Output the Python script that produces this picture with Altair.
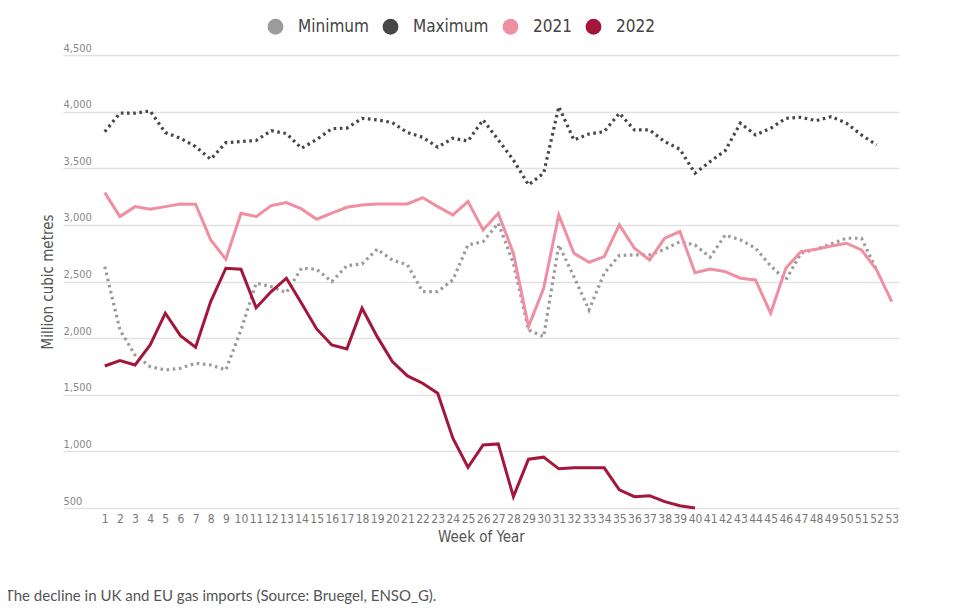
import altair as alt
import pandas as pd

series_names = ["Minimum", "Maximum", "2021", "2022"]
series_colors = ["#9b9b9b", "#474747", "#ef8fa1", "#a3173b"]

minimum = [2631, 2072, 1851, 1748, 1719, 1734, 1778, 1763, 1719, 2072,
           2485, 2455, 2402, 2617, 2608, 2499, 2640, 2655, 2785, 2690,
           2646, 2411, 2411, 2514, 2823, 2852, 3015, 2661, 2072, 2013,
           2823, 2543, 2249, 2573, 2730, 2735, 2735, 2785, 2852, 2823,
           2714, 2911, 2867, 2794, 2638, 2514, 2750, 2785, 2832, 2882,
           2882, 2602]
maximum = [3823, 3986, 3986, 4006, 3815, 3765, 3691, 3580, 3726, 3736,
           3745, 3832, 3806, 3677, 3753, 3849, 3855, 3941, 3927, 3903,
           3815, 3774, 3686, 3765, 3741, 3927, 3750, 3573, 3353, 3456,
           4044, 3750, 3803, 3823, 3986, 3838, 3838, 3735, 3668, 3456,
           3559, 3656, 3898, 3794, 3853, 3941, 3950, 3920, 3956, 3898,
           3794, 3706]
y2021 = [3285, 3073, 3161, 3138, 3161, 3185, 3183, 2867, 2697, 3103,
         3073, 3170, 3197, 3141, 3050, 3103, 3155, 3176, 3185, 3185,
         3185, 3241, 3161, 3088, 3205, 2955, 3103, 2750, 2102, 2440,
         3088, 2750, 2670, 2720, 3000, 2794, 2690, 2882, 2941, 2578,
         2611, 2587, 2529, 2514, 2220, 2617, 2764, 2785, 2814, 2838,
         2779, 2602, 2322]
y2022 = [1754, 1801, 1763, 1940, 2220, 2022, 1920, 2323, 2617, 2608,
         2269, 2411, 2529, 2308, 2081, 1940, 1905, 2264, 2013, 1793,
         1666, 1602, 1514, 1116, 860, 1057, 1066, 600, 931, 949,
         846, 855, 855, 855, 660, 600, 609, 556, 520, 500]

week_ticks = list(range(1, 54))
y_ticks = [500, 1000, 1500, 2000, 2500, 3000, 3500, 4000, 4500]

rows = []
for name, vals in zip(series_names, [minimum, maximum, y2021, y2022]):
    for i, v in enumerate(vals):
        rows.append({"week": i + 1, "value": v, "series": name})
df = pd.DataFrame(rows)

FONT = "Liberation Sans Narrow, DejaVu Sans Condensed, Roboto"

x = alt.X("week:Q",
          scale=alt.Scale(domain=[-1.76, 53.48], nice=False, zero=False),
          axis=alt.Axis(values=week_ticks, format="d", grid=False, domain=False,
                        ticks=False, labelFlush=False, labelOverlap=False,
                        labelPadding=5, labelFont=FONT, labelFontSize=12,
                        labelColor="#777777", title="Week of Year",
                        titleFont=FONT, titleFontSize=15, titleFontWeight="normal",
                        titleColor="#555555", titlePadding=5))
y = alt.Y("value:Q",
          scale=alt.Scale(domain=[500, 4500], nice=False, zero=False),
          axis=alt.Axis(values=y_ticks, format=",.0f", domain=False, ticks=False,
                        labelAlign="left", labelBaseline="bottom", labelPadding=0,
                        labelOffset=-2, labelFont=FONT, labelFontSize=11,
                        labelColor="#888888", gridColor="#e2e2e2", gridWidth=1.5,
                        title="Million cubic metres", titleFont=FONT,
                        titleFontSize=15, titleFontWeight="normal",
                        titleColor="#555555", titleX=-16, titleY=226.5,
                        titleBaseline="middle", titleAlign="center"))

base = alt.Chart(df)


def series_line(name, color, dotted):
    kw = dict(strokeWidth=3.0)
    if dotted:
        kw = dict(strokeWidth=3.2, strokeDash=[2.6, 3.6], strokeCap="butt")
    return base.transform_filter(alt.datum.series == name).mark_line(**kw).encode(
        x=x, y=y, color=alt.value(color))


layers = [series_line(n, c, n in ("Minimum", "Maximum"))
          for n, c in zip(series_names, series_colors)]

legend_layer = base.mark_point(filled=True, size=0, strokeWidth=0).encode(
    x=x, y=y,
    fill=alt.Fill("series:N",
                  scale=alt.Scale(domain=series_names, range=series_colors),
                  legend=alt.Legend(orient="none", legendX=204, legendY=-37,
                                    direction="horizontal", title=None,
                                    symbolType="circle", symbolSize=250,
                                    symbolOpacity=1, symbolStrokeWidth=0,
                                    labelFont=FONT, labelFontSize=17,
                                    labelColor="#444444", labelOffset=14,
                                    columnPadding=13)))

chart = alt.layer(*layers, legend_layer).properties(
    width=836, height=453,
    autosize=alt.AutoSizeParams(type="none"),
    padding={"left": 55, "top": 47, "right": 52, "bottom": 100},
    title=alt.TitleParams(
        "The decline in UK and EU gas imports (Source: Bruegel, ENSO_G).",
        orient="bottom", anchor="start", frame="group", dx=-58, offset=45,
        font="Lato", fontSize=15, fontWeight="normal", color="#555555"),
).configure_view(stroke=None)

chart.save("out.html", embed_options={"renderer": "svg", "actions": False})
